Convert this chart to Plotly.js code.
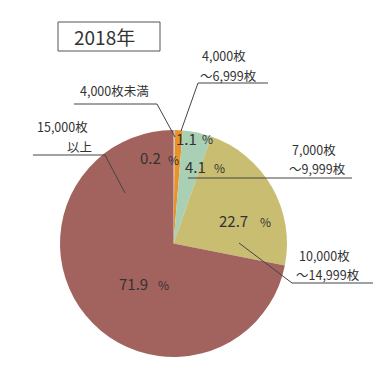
<!DOCTYPE html>
<html><head><meta charset="utf-8">
<script src="https://cdn.plot.ly/plotly-3.0.1.min.js"></script>
<style>html,body{margin:0;padding:0;background:#fff}#c{width:385px;height:373px}</style>
</head><body><div id="c"></div>
<script>
const categories = ["4,000枚未満", "4,000枚〜6,999枚", "7,000枚〜9,999枚", "10,000枚〜14,999枚", "15,000枚以上"];
const values = [0.2, 1.1, 4.1, 22.7, 71.9];
const colors = ["#c6c9d1", "#e8922a", "#a9cfb4", "#c9bd72", "#a2625e"];
const calloutLine1 = ["4,000枚未満", "4,000枚", "7,000枚", "10,000枚", "15,000枚"];
const calloutLine2 = ["", "〜6,999枚", "〜9,999枚", "〜14,999枚", "以上"];
const yearLabel = "2018年";

const W = 385, H = 373;
const px = x => x / W, py = y => 1 - y / H;
const cx = 173.5, cy = 243.5, r = 113.5;
const font = "Noto Sans CJK JP, Noto Sans, sans-serif";
const txt = "#333333";

const trace = {
  type: "pie", labels: categories, values: values, sort: false, direction: "clockwise", rotation: 0,
  marker: {colors: colors, line: {width: 0}}, textinfo: "none", hoverinfo: "none",
  domain: {x: [px(cx - r), px(cx + r)], y: [py(cy + r), py(cy - r)]}, showlegend: false
};

const ann = [];
function A(text, x, y, size, xanchor) {
  if (!text) return;
  ann.push({text: text, x: px(x), y: py(y), xref: "paper", yref: "paper", showarrow: false,
    xanchor: xanchor || "center", yanchor: "middle", font: {family: font, size: size, color: txt}});
}
// percent labels
const pctPos = [[150, 157, 173, 159], [186, 138, 208, 138], [196, 166, 219, 167], [233, 221, 265, 222], [133, 283, 163, 284]];
values.forEach((v, i) => {
  const p = pctPos[i];
  A(v.toFixed(1), p[0], p[1], 15, "center");
  A("%", p[2], p[3], 12, "center");
});
// callout labels: [x1, y1, x2, y2] left edges
const calloutPos = [[78, 91, 0, 0], [200, 56, 198, 75], [290, 149, 287, 168], [297, 255, 294, 274], [35, 126, 65, 146]];
calloutPos.forEach((p, i) => {
  A(calloutLine1[i], p[0], p[1], 12.5, "left");
  A(calloutLine2[i], p[2], p[3], 12.5, "left");
});
// title box text
A(yearLabel, 72, 37, 19, "left");

const shapes = [];
function L(x0, y0, x1, y1) {
  shapes.push({type: "line", xref: "paper", yref: "paper", x0: px(x0), y0: py(y0), x1: px(x1), y1: py(y1),
    line: {color: "#444", width: 1}});
}
shapes.push({type: "rect", xref: "paper", yref: "paper", x0: px(58), y0: py(51), x1: px(160), y1: py(22),
  line: {color: "#555", width: 1}, fillcolor: "rgba(0,0,0,0)"});
L(74, 104, 157, 104); L(157, 104, 175, 137);
L(198, 83, 268, 83); L(198, 83, 181, 131);
L(33, 155, 105, 155); L(105, 155, 125, 193);
L(188, 178, 352, 178);
L(239, 243, 292, 283); L(292, 283, 373, 283);

Plotly.newPlot("c", [trace], {
  width: W, height: H, margin: {l: 0, r: 0, t: 0, b: 0}, paper_bgcolor: "#fff",
  annotations: ann, shapes: shapes
}, {staticPlot: true});
</script></body></html>
